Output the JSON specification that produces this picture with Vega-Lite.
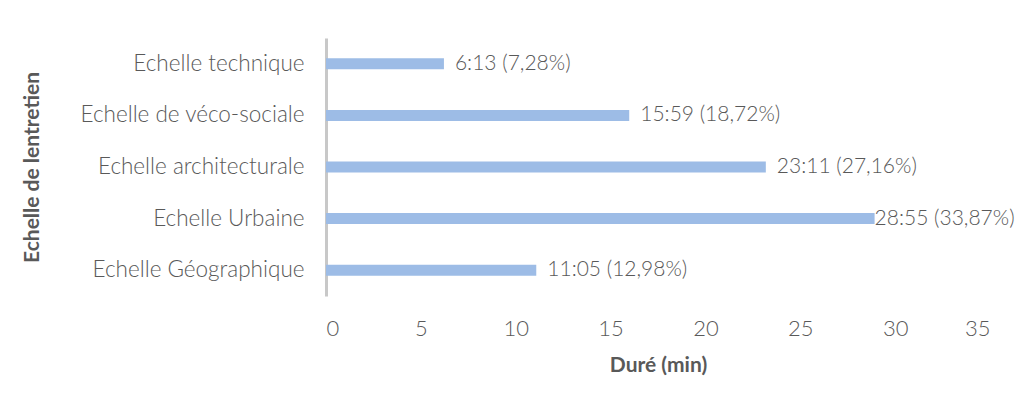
{
  "$schema": "https://vega.github.io/schema/vega-lite/v6.json",
  "width": 664,
  "height": 258,
  "autosize": {"type": "none"},
  "padding": {"left": 326, "top": 38, "right": 25, "bottom": 109},
  "background": "white",
  "config": {
    "view": {"stroke": null},
    "font": "Lato",
    "axis": {"labelFont": "Lato", "titleFont": "Lato", "labelColor": "#595959", "titleColor": "#595959"}
  },
  "data": {
    "values": [
      {"echelle": "Echelle technique", "duree": 6.2167, "label": "6:13 (7,28%)"},
      {"echelle": "Echelle de véco-sociale", "duree": 15.9833, "label": "15:59 (18,72%)"},
      {"echelle": "Echelle architecturale", "duree": 23.1833, "label": "23:11 (27,16%)"},
      {"echelle": "Echelle Urbaine", "duree": 28.9167, "label": "28:55 (33,87%)"},
      {"echelle": "Echelle Géographique", "duree": 11.0833, "label": "11:05 (12,98%)"}
    ]
  },
  "encoding": {
    "y": {
      "field": "echelle", "type": "nominal", "sort": null,
      "scale": {"paddingInner": 0.78, "paddingOuter": 0.39},
      "axis": {
        "title": "Echelle de lentretien", "titleFontSize": 21, "titleFontWeight": "bold",
        "titleX": -294, "titleY": 129, "titleAngle": -90, "titleAlign": "center", "titleBaseline": "middle",
        "labelFontSize": 22.5, "labelFontWeight": 300, "labelPadding": 22, "labelLimit": 400, "ticks": false,
        "domainColor": "#c8c8c8", "domainWidth": 3
      }
    },
    "x": {
      "field": "duree", "type": "quantitative",
      "scale": {"domain": [0, 35], "nice": false},
      "axis": {
        "title": "Duré (min)", "titleFontSize": 21, "titleFontWeight": "bold", "titlePadding": 15,
        "values": [0, 5, 10, 15, 20, 25, 30, 35],
        "labelFontSize": 22, "labelFontWeight": 300, "labelPadding": 22, "ticks": false, "domain": false, "grid": false
      }
    }
  },
  "layer": [
    {"mark": {"type": "bar", "size": 11, "color": "#9dbce6"}},
    {
      "transform": [{"filter": "datum.duree < 28"}],
      "mark": {"type": "text", "align": "left", "baseline": "middle", "dx": 11, "fontSize": 21, "fontWeight": 300, "color": "#595959"},
      "encoding": {"text": {"field": "label"}}
    },
    {
      "transform": [{"filter": "datum.duree >= 28"}],
      "mark": {"type": "text", "align": "left", "baseline": "middle", "dx": 0, "fontSize": 21, "fontWeight": 300, "color": "#595959"},
      "encoding": {"text": {"field": "label"}}
    }
  ]
}
